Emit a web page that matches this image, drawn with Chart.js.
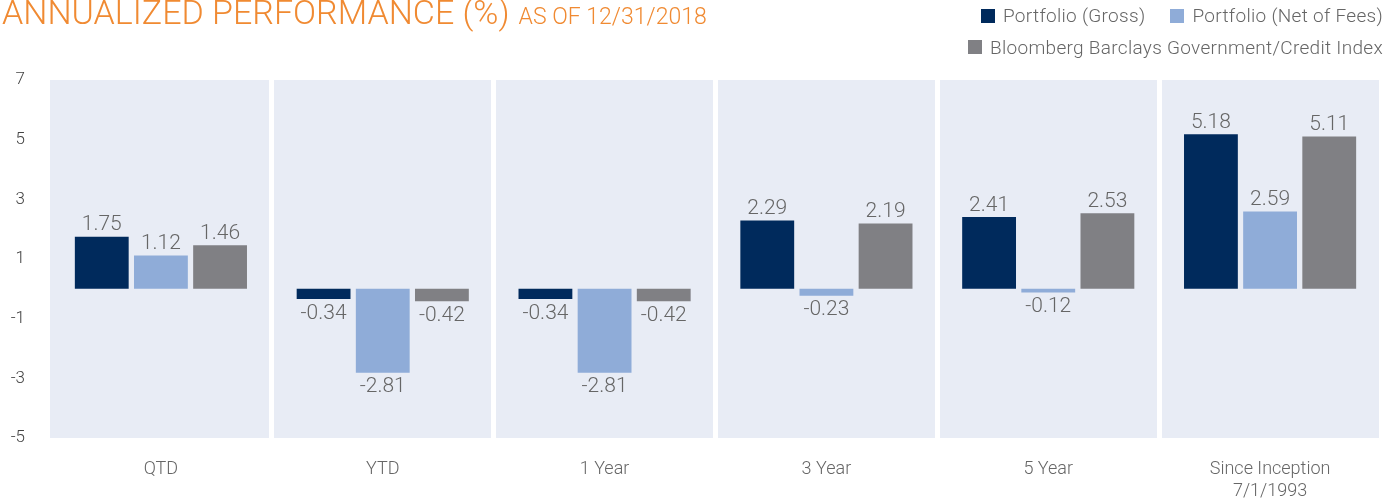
<!DOCTYPE html>
<html>
<head>
<meta charset="utf-8">
<script src="https://cdn.jsdelivr.net/npm/chart.js@4"></script>
<style>
  body { margin: 0; background: #fff; font-family: Roboto, "Liberation Sans", sans-serif; font-weight: 300; }
  #wrap { position: relative; width: 1399px; height: 504px; }
  #title { position: absolute; left: 2px; top: -5px; color: #f08a32; font-size: 34px; line-height: 34px; white-space: nowrap; }
  #title small { font-size: 23px; margin-left: 9px; }
  #legend { position: absolute; right: 16px; top: 0px; color: #666; font-size: 19px; letter-spacing: 0.3px; }
  .row { display: flex; justify-content: flex-end; height: 31.5px; align-items: center; }
  .item { display: flex; align-items: center; margin-left: 25px; }
  .box { width: 14px; height: 14px; margin-right: 8px; }
</style>
</head>
<body>
<div id="wrap">
  <div id="title">ANNUALIZED PERFORMANCE (%)<small>AS OF 12/31/2018</small></div>
  <div id="legend"></div>
  <canvas id="barChart"></canvas>
</div>
<script>
// data
var categories = ["QTD", "YTD", "1 Year", "3 Year", "5 Year", ["Since Inception", "7/1/1993"]];
var seriesNames = ["Portfolio (Gross)", "Portfolio (Net of Fees)", "Bloomberg Barclays Government/Credit Index"];
var gross = [1.75, -0.34, -0.34, 2.29, 2.41, 5.18];
var netOfFees = [1.12, -2.81, -2.81, -0.23, -0.12, 2.59];
var indexReturns = [1.46, -0.42, -0.42, 2.19, 2.53, 5.11];
var yTicks = [-5, -3, -1, 1, 3, 5, 7];
var colors = ["#002a5c", "#8facd8", "#808084"];

// legend (two rows, right aligned)
var legendRows = [[0, 1], [2]];
var legendEl = document.getElementById("legend");
legendRows.forEach(function (r) {
  var row = document.createElement("div");
  row.className = "row";
  r.forEach(function (i) {
    row.innerHTML += '<span class="item"><span class="box" style="background:' + colors[i] + '"></span>' + seriesNames[i] + '</span>';
  });
  legendEl.appendChild(row);
});

var areaBg = {
  id: 'areaBg',
  beforeDraw: function (chart) {
    var a = chart.chartArea, ctx = chart.ctx;
    ctx.save();
    ctx.fillStyle = '#e8ecf5';
    ctx.fillRect(a.left, a.top, a.right - a.left, a.bottom - a.top);
    ctx.restore();
  }
};

var valueLabels = {
  id: 'valueLabels',
  afterDatasetsDraw: function (chart) {
    var ctx = chart.ctx;
    ctx.save();
    ctx.font = '300 21px Roboto, "Liberation Sans", sans-serif';
    ctx.fillStyle = '#666';
    ctx.textAlign = 'center';
    chart.data.datasets.forEach(function (ds, i) {
      chart.getDatasetMeta(i).data.forEach(function (bar, j) {
        var v = ds.data[j];
        if (v >= 0) {
          ctx.textBaseline = 'bottom';
          ctx.fillText(v.toFixed(2), bar.x, bar.y - 1);
        } else {
          ctx.textBaseline = 'top';
          ctx.fillText(v.toFixed(2), bar.x, bar.y + 4);
        }
      });
    });
    ctx.restore();
  }
};

var ctxB = document.getElementById("barChart").getContext('2d');
var myBarChart = new Chart(ctxB, {
  type: 'bar',
  data: {
    labels: categories,
    datasets: [
      { label: seriesNames[0], data: gross, backgroundColor: colors[0] },
      { label: seriesNames[1], data: netOfFees, backgroundColor: colors[1] },
      { label: seriesNames[2], data: indexReturns, backgroundColor: colors[2] }
    ]
  },
  options: {
    responsive: true,
    maintainAspectRatio: false,
    animation: false,
    datasets: { bar: { categoryPercentage: 0.8, barPercentage: 0.91 } },
    layout: { padding: { top: 80, right: 18, left: 0, bottom: 0 } },
    plugins: { legend: { display: false }, tooltip: { enabled: false } },
    scales: {
      x: {
        grid: {
          offset: true,
          drawTicks: false,
          lineWidth: 5,
          color: function (c) { return (c.index === 0 || c.index === categories.length) ? 'rgba(0,0,0,0)' : '#fff'; }
        },
        border: { display: false },
        ticks: { color: '#666', padding: 21, font: { family: 'Roboto', size: 18, weight: '300' } },
        afterFit: function (s) { s.height = 66; }
      },
      y: {
        min: yTicks[0],
        max: yTicks[yTicks.length - 1],
        afterBuildTicks: function (s) { s.ticks = yTicks.map(function (v) { return { value: v }; }); },
        grid: {
          drawTicks: false,
          lineWidth: 5,
          color: function (c) { return c.tick && c.tick.value === 0 ? '#fff' : 'rgba(0,0,0,0)'; }
        },
        border: { display: false },
        ticks: { color: '#444', padding: 25, font: { family: 'Roboto', size: 17, weight: '300' } },
        afterFit: function (s) { s.width = 50; }
      }
    }
  },
  plugins: [areaBg, valueLabels]
});
</script>
</body>
</html>
